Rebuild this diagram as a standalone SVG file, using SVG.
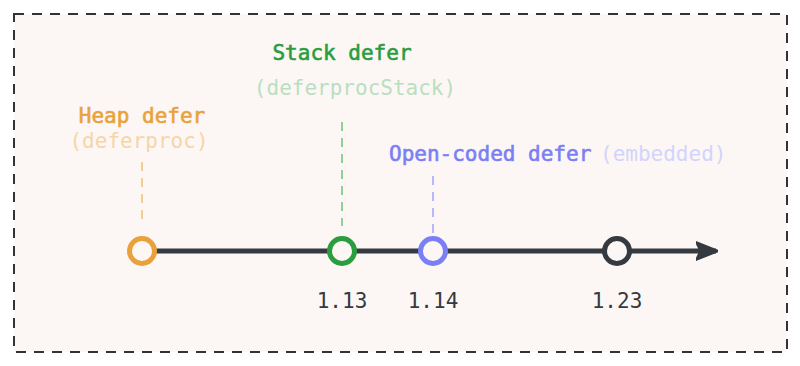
<svg xmlns="http://www.w3.org/2000/svg" width="800" height="366" viewBox="0 0 800 366">
<style>
text{font-family:"DejaVu Sans Mono","Liberation Mono",monospace;font-size:21px}
.t{stroke-width:0.6}
.v{fill:#343a40;text-anchor:middle}
.lead{stroke-width:2;stroke-dasharray:9 7;fill:none}
.dot{fill:#fcf7f5;stroke-width:5}
</style>
<defs>
<marker id="ah" viewBox="0 0 10 10" refX="9" refY="5" markerWidth="4.4" markerHeight="4.4" orient="auto" markerUnits="strokeWidth">
<path d="M0,1 L10,5 L0,9 L2,5 Z" fill="#343a40" stroke="#343a40" stroke-width="1" stroke-linejoin="round"/>
</marker>
</defs>
<rect x="14" y="14" width="773" height="338" fill="#fcf7f5" stroke="#333" stroke-width="2" stroke-dasharray="10 8"/>
<g id="connectors">
<line x1="142" y1="251" x2="716" y2="251" stroke="#343a40" stroke-width="5" marker-end="url(#ah)"/>
<line class="lead" x1="142" y1="162" x2="142" y2="222" stroke="#f5cd94"/>
<line class="lead" x1="342" y1="122" x2="342" y2="226" stroke="#8fcf98"/>
<line class="lead" x1="433" y1="176" x2="433" y2="235" stroke="#b7b9fa"/>
</g>
<g id="heap">
<text class="t" x="142" y="123" text-anchor="middle" fill="#e9a23b" stroke="#e9a23b">Heap defer</text>
<text x="139" y="148" text-anchor="middle" fill="#f6d5a7">(deferproc)</text>
<circle class="dot" cx="142" cy="251" r="12.5" stroke="#e9a23b"/>
</g>
<g id="stack">
<text class="t" x="342" y="60" text-anchor="middle" fill="#2a9d3f" stroke="#2a9d3f">Stack defer</text>
<text x="355" y="95" text-anchor="middle" fill="#b9dfc0">(deferprocStack)</text>
<circle class="dot" cx="342" cy="251" r="12.5" stroke="#2a9d3f"/>
<text class="v" x="342" y="308">1.13</text>
</g>
<g id="opencoded">
<text class="t" x="389" y="161" fill="#7b7ff5" stroke="#7b7ff5">Open-coded defer</text>
<text x="600" y="161" fill="#d3d4fb">(embedded)</text>
<circle class="dot" cx="433" cy="251" r="12.5" stroke="#7b7ff5"/>
<text class="v" x="433" y="308">1.14</text>
</g>
<g id="v123">
<circle class="dot" cx="617" cy="251" r="12.5" stroke="#343a40"/>
<text class="v" x="617" y="308">1.23</text>
</g>
</svg>
